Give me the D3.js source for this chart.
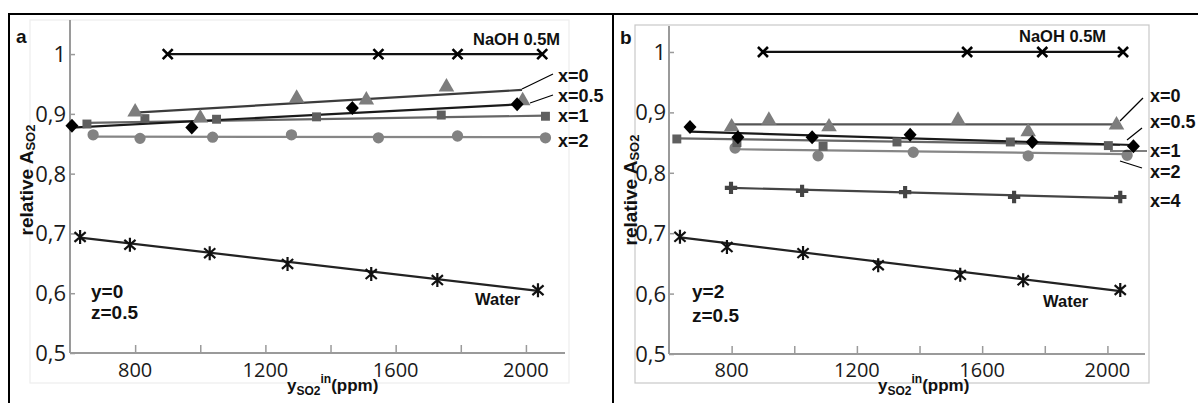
<!DOCTYPE html>
<html>
<head>
<meta charset="utf-8">
<script src="https://cdn.jsdelivr.net/npm/d3@7"></script>
<style>
  body { margin: 0; background: #fff; }
  svg { display: block; }
  .tick-lab { font-family: "Open Sans", sans-serif; fill: #1a1a1a; }
  .lab { font-family: "Liberation Sans", Arial, sans-serif; font-weight: bold; fill: #111; }
</style>
</head>
<body>
<svg id="chart" width="1198" height="403"></svg>
<script>
// ---- data ----
// x: inlet SO2 (ppm), y: relative A_SO2
const yTicks = [0.5, 0.6, 0.7, 0.8, 0.9, 1]
const xTicks = [800, 1000, 1200, 1400, 1600, 1800, 2000]
const xTickLabels = [800, 1200, 1600, 2000]

// panel a (y=0, z=0.5)
const naohA = [[900, 1.0], [1547, 1.0], [1790, 1.0], [2050, 1.0]]
const naohFitA = [[900, 1.0], [2050, 1.0]]
const x0A = [[800, 0.903], [1000, 0.893], [1296, 0.926], [1510, 0.923], [1756, 0.945], [1990, 0.922]]
const x0FitA = [[800, 0.902], [1988, 0.940]]
const x05A = [[606, 0.880], [974, 0.877], [1467, 0.910], [1973, 0.916]]
const x05FitA = [[606, 0.877], [1980, 0.916]]
const x1A = [[652, 0.883], [830, 0.892], [1050, 0.891], [1357, 0.895], [1740, 0.898], [2060, 0.896]]
const x1FitA = [[652, 0.885], [2060, 0.897]]
const x2A = [[671, 0.865], [815, 0.859], [1038, 0.861], [1280, 0.865], [1547, 0.860], [1790, 0.863], [2060, 0.860]]
const x2FitA = [[671, 0.862], [2060, 0.861]]
const waterA = [[631, 0.694], [784, 0.681], [1029, 0.667], [1268, 0.649], [1525, 0.632], [1728, 0.622], [2037, 0.605]]
const waterFitA = [[631, 0.693], [2037, 0.604]]

// panel b (y=2, z=0.5)
const naohB = [[900, 1.0], [1552, 1.0], [1792, 1.0], [2050, 1.0]]
const naohFitB = [[900, 1.0], [2050, 1.0]]
const x0B = [[800, 0.876], [919, 0.887], [1111, 0.876], [1523, 0.887], [1747, 0.868], [2029, 0.879]]
const x0FitB = [[800, 0.880], [2029, 0.880]]
const x05B = [[667, 0.876], [820, 0.859], [1057, 0.859], [1370, 0.863], [1760, 0.851], [2083, 0.844]]
const x05FitB = [[667, 0.868], [2083, 0.846]]
const x1B = [[625, 0.856], [817, 0.850], [1092, 0.844], [1328, 0.851], [1690, 0.851], [2003, 0.845]]
const x1FitB = [[625, 0.857], [2040, 0.846]]
const x2B = [[811, 0.841], [1076, 0.828], [1380, 0.834], [1747, 0.828], [2063, 0.829]]
const x2FitB = [[811, 0.839], [2063, 0.831]]
const x4B = [[798, 0.775], [1025, 0.770], [1354, 0.768], [1702, 0.760], [2041, 0.760]]
const x4FitB = [[798, 0.775], [2041, 0.758]]
const waterB = [[635, 0.694], [785, 0.677], [1028, 0.667], [1268, 0.647], [1530, 0.631], [1731, 0.622], [2041, 0.606]]
const waterFitB = [[635, 0.693], [2041, 0.604]]

const svg = d3.select("#chart")

// outer frame lines (black) around the two panels
svg.append("path")
  .attr("d", "M9,403V14H1198M613,14V403")
  .attr("fill", "none").attr("stroke", "#000").attr("stroke-width", 2)

// marker shapes
const crossPath = r => `M${-r},${-r}L${r},${r}M${-r},${r}L${r},${-r}`
const starPath = r => `M0,${-r}L0,${r}M${-r * 0.8},${-r * 0.7}L${r * 0.8},${r * 0.7}M${-r * 0.8},${r * 0.7}L${r * 0.8},${-r * 0.7}`
const diamondPath = (w, h) => `M0,${-h}L${w},0L0,${h}L${-w},0Z`

const markers = {
  cross: { d: crossPath(5), fill: "none", stroke: "#000", sw: 2.6 },
  star: { d: starPath(7), fill: "none", stroke: "#111", sw: 2.2 },
  tri: { d: d3.symbol(d3.symbolTriangle, 105)(), fill: "#7d7d7d", stroke: "none" },
  diamond: { d: diamondPath(6.5, 7), fill: "#000", stroke: "none" },
  square: { d: d3.symbol(d3.symbolSquare, 80)(), fill: "#5f5f5f", stroke: "none" },
  circle: { d: d3.symbol(d3.symbolCircle, 100)(), fill: "#828282", stroke: "none" },
  plus: { d: d3.symbol(d3.symbolCross, 85)(), fill: "#444", stroke: "none" }
}

function drawPanel(cfg) {
  const g = svg.append("g")
  const x = d3.scaleLinear().domain([600, 2120]).range(cfg.xRange)
  const y = d3.scaleLinear().domain([0.5, cfg.yTop]).range(cfg.yRange)

  // light plot-area frame
  g.append("rect")
    .attr("x", cfg.frame[0]).attr("y", cfg.frame[1])
    .attr("width", cfg.frame[2] - cfg.frame[0]).attr("height", cfg.frame[3] - cfg.frame[1])
    .attr("fill", "none").attr("stroke", cfg.frameColor).attr("stroke-width", 1.2)

  // axes: ticks point inward
  const xAxis = d3.axisBottom(x).tickValues(xTicks).tickSize(-8).tickFormat("")
  const yAxis = d3.axisLeft(y).tickValues(yTicks).tickSize(-5).tickFormat("")
  const gx = g.append("g").attr("transform", `translate(0,${cfg.yRange[0]})`).call(xAxis)
  const gy = g.append("g").attr("transform", `translate(${cfg.xRange[0]},0)`).call(yAxis)
  ;[gx, gy].forEach(a => {
    a.select(".domain").attr("stroke", "#9a9a9a").attr("stroke-width", 2)
    a.selectAll(".tick line").attr("stroke", "#9a9a9a").attr("stroke-width", 1.5)
  })
  // draw domains without end caps
  gx.select(".domain").attr("d", `M${cfg.xRange[0]},0H${cfg.xRange[1]}`)
  gy.select(".domain").attr("d", `M0,${cfg.yRange[0]}V${cfg.yRange[1]}`)

  g.selectAll(".ylab").data(yTicks).enter().append("text")
    .attr("class", "tick-lab")
    .attr("x", cfg.xRange[0] - cfg.yLabGap).attr("y", d => y(d) + 8)
    .attr("text-anchor", "end").style("font-size", "22px")
    .text(d => d === 1 ? "1" : d3.format(".1f")(d).replace(".", ","))

  g.selectAll(".xlab").data(xTickLabels).enter().append("text")
    .attr("class", "tick-lab")
    .attr("x", d => x(d)).attr("y", 377)
    .attr("text-anchor", "middle").style("font-size", "20px")
    .text(d => d)

  // fit lines
  const line = d3.line().x(d => x(d[0])).y(d => y(d[1]))
  cfg.series.forEach(s => {
    g.append("path").attr("d", line(s.fit))
      .attr("fill", "none").attr("stroke", s.lineColor).attr("stroke-width", 2.2)
  })
  // markers
  cfg.series.forEach(s => {
    const m = markers[s.marker]
    g.selectAll(null).data(s.pts).enter().append("path")
      .attr("transform", d => `translate(${x(d[0])},${y(d[1])})`)
      .attr("d", m.d).attr("fill", m.fill)
      .attr("stroke", m.stroke).attr("stroke-width", m.sw || 0)
  })

  // annotations
  cfg.leaders.forEach(l => {
    g.append("line").attr("x1", l[0]).attr("y1", l[1]).attr("x2", l[2]).attr("y2", l[3])
      .attr("stroke", "#000").attr("stroke-width", 1.2)
  })
  cfg.labels.forEach(l => {
    g.append("text").attr("class", "lab").attr("x", l.x).attr("y", l.y)
      .style("font-size", l.size + "px").text(l.t)
  })

  g.append("text").attr("class", "lab").attr("x", cfg.letter[0]).attr("y", cfg.letter[1])
    .style("font-size", "19px").text(cfg.letter[2])

  // x axis title
  const xt = g.append("text").attr("class", "lab").attr("x", cfg.xTitle[0]).attr("y", cfg.xTitle[1])
    .style("font-size", "17px")
  xt.append("tspan").text("y")
  xt.append("tspan").attr("dy", 4).style("font-size", "12px").text("SO2")
  xt.append("tspan").attr("dy", -12).style("font-size", "12px").text("in")
  xt.append("tspan").attr("dy", 8).text("(ppm)")

  // y axis title
  const yt = g.append("text").attr("class", "lab")
    .attr("transform", `translate(${cfg.yTitle[0]},${cfg.yTitle[1]}) rotate(-90)`)
    .attr("text-anchor", "middle").style("font-size", "19px")
  yt.append("tspan").text("relative A")
  yt.append("tspan").attr("dy", 2).style("font-size", "13px").text("SO2")
}

drawPanel({
  xRange: [70, 565], yRange: [353, 20], yTop: 1.057, yLabGap: 4,
  frame: [30, 20, 569, 383], frameColor: "#ededed",
  letter: [16, 43, "a"], xTitle: [287, 391], yTitle: [33, 180],
  series: [
    { pts: naohA, fit: naohFitA, marker: "cross", lineColor: "#111" },
    { pts: waterA, fit: waterFitA, marker: "star", lineColor: "#222" },
    { pts: x2A, fit: x2FitA, marker: "circle", lineColor: "#868686" },
    { pts: x1A, fit: x1FitA, marker: "square", lineColor: "#666" },
    { pts: x0A, fit: x0FitA, marker: "tri", lineColor: "#3c3c3c" },
    { pts: x05A, fit: x05FitA, marker: "diamond", lineColor: "#1a1a1a" }
  ],
  leaders: [[522, 89, 553, 74], [530, 103, 553, 95]],
  labels: [
    { t: "NaOH 0.5M", x: 473, y: 45, size: 16.5 },
    { t: "x=0", x: 558, y: 82, size: 18 },
    { t: "x=0.5", x: 558, y: 102, size: 18 },
    { t: "x=1", x: 558, y: 122, size: 18 },
    { t: "x=2", x: 558, y: 147, size: 18 },
    { t: "y=0", x: 91, y: 298, size: 19 },
    { t: "z=0.5", x: 91, y: 319, size: 19 },
    { t: "Water", x: 475, y: 305, size: 16.5 }
  ]
})

// white patch behind "b" so the grey frame corner is broken as in the figure
svg.append("rect").attr("x", 630).attr("y", 20).attr("width", 24).attr("height", 32).attr("fill", "#fff")

drawPanel({
  xRange: [669, 1145], yRange: [354, 26], yTop: 1.043, yLabGap: 3,
  frame: [635, 25, 1149, 383], frameColor: "#c8c8c8",
  letter: [620, 44, "b"], xTitle: [878, 391], yTitle: [637, 190],
  series: [
    { pts: naohB, fit: naohFitB, marker: "cross", lineColor: "#111" },
    { pts: waterB, fit: waterFitB, marker: "star", lineColor: "#222" },
    { pts: x4B, fit: x4FitB, marker: "plus", lineColor: "#444" },
    { pts: x2B, fit: x2FitB, marker: "circle", lineColor: "#868686" },
    { pts: x1B, fit: x1FitB, marker: "square", lineColor: "#666" },
    { pts: x0B, fit: x0FitB, marker: "tri", lineColor: "#555" },
    { pts: x05B, fit: x05FitB, marker: "diamond", lineColor: "#1a1a1a" }
  ],
  leaders: [[1120, 121, 1143, 98], [1127, 140, 1142, 128], [1110, 151, 1147, 151], [1120, 161, 1142, 168]],
  labels: [
    { t: "NaOH 0.5M", x: 1019, y: 42, size: 16.5 },
    { t: "x=0", x: 1150, y: 102, size: 18 },
    { t: "x=0.5", x: 1150, y: 128, size: 18 },
    { t: "x=1", x: 1150, y: 157, size: 18 },
    { t: "x=2", x: 1150, y: 178, size: 18 },
    { t: "x=4", x: 1150, y: 207, size: 18 },
    { t: "y=2", x: 692, y: 298, size: 19 },
    { t: "z=0.5", x: 692, y: 322, size: 19 },
    { t: "Water", x: 1043, y: 307, size: 16.5 }
  ]
})
</script>
</body>
</html>
